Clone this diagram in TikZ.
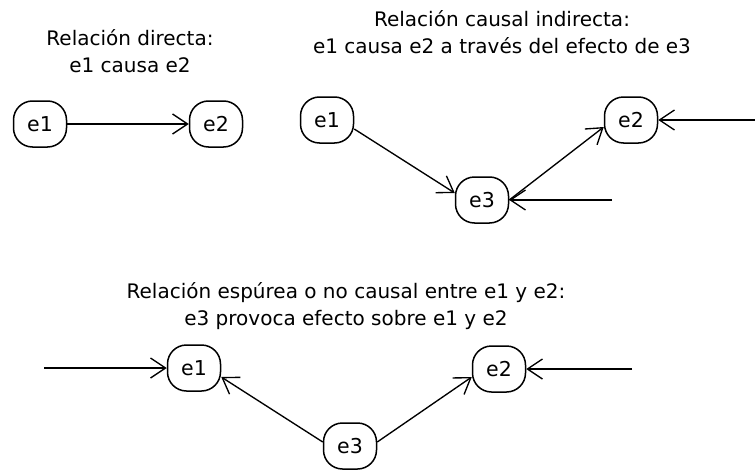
\documentclass[tikz,border=0pt]{standalone}
\usepackage{fontspec}
\setmainfont{DejaVu Sans}
\usetikzlibrary{arrows.meta}
\tikzset{
  ev/.style={draw, line width=1.5pt, rounded corners=19pt, minimum width=53pt,
    minimum height=46pt, inner sep=0pt, font=\fontsize{20.5}{26}\selectfont},
  ttl/.style={align=center, font=\fontsize{20}{27}\selectfont, inner sep=0pt},
  arr/.style={line width=1.35pt, -{Straight Barb[length=15pt,width=20pt]}}
}
\begin{document}
\begin{tikzpicture}[x=1pt,y=-1pt]
\useasboundingbox (0,0) rectangle (755,471);
% titles
\node[ttl] (t1) at (130,51) {Relación directa:\\e1 causa e2};
\node[ttl] (t2) at (502,32) {Relación causal indirecta:\\e1 causa e2 a través del efecto de e3};
\node[ttl] (t3) at (346,306) {Relación espúrea o no causal entre e1 y e2:\\e3 provoca efecto sobre e1 y e2};
% direct
\node[ev] (a1) at (40,124) {e1};
\node[ev] (a2) at (216,124) {e2};
\draw[arr] (a1) -- (a2);
% indirect
\node[ev] (b1) at (327,120) {e1};
\node[ev] (b2) at (631,120) {e2};
\node[ev] (b3) at (482,200) {e3};
\coordinate (b2in) at (755,120);
\coordinate (b3in) at (612,200);
\draw[arr] ([yshift=-9pt]b1.east) -- ([yshift=7pt]b3.west);
\draw[arr] (b3.east) -- ([yshift=-7pt]b2.west);
\draw[arr] (b2in) -- (b2.east);
\draw[arr] (b3in) -- (b3.east);
% spurious
\node[ev] (c1) at (194,368) {e1};
\node[ev] (c2) at (499,369) {e2};
\node[ev] (c3) at (350,446) {e3};
\coordinate (c1in) at (44,368);
\coordinate (c2in) at (632,369);
\draw[arr] ([yshift=4pt]c3.west) -- ([yshift=-9pt]c1.east);
\draw[arr] ([yshift=4pt]c3.east) -- ([yshift=-8pt]c2.west);
\draw[arr] (c1in) -- (c1.west);
\draw[arr] (c2in) -- (c2.east);
\end{tikzpicture}
\end{document}
